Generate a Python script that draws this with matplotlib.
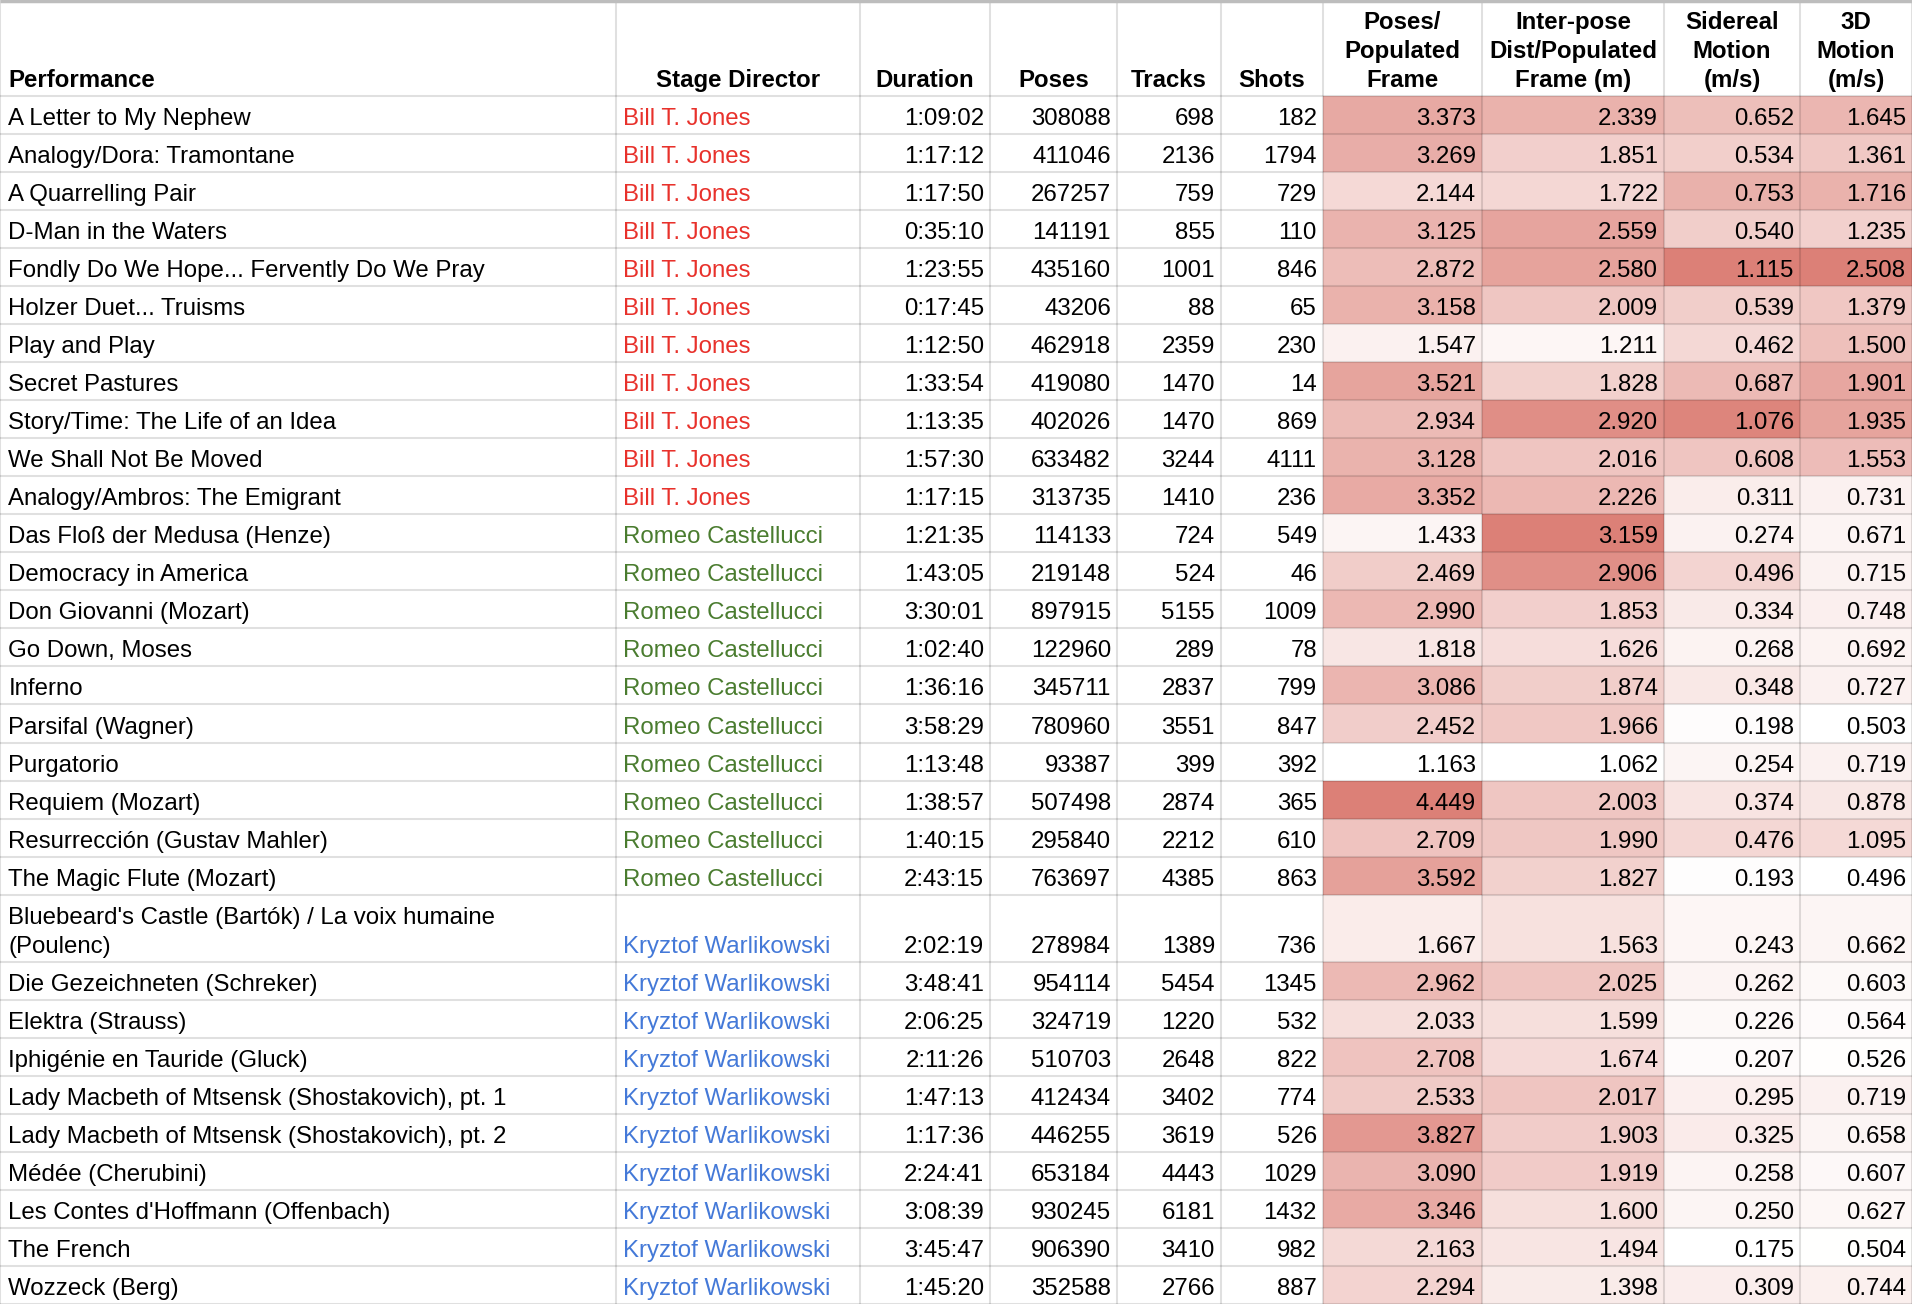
import matplotlib
matplotlib.use("Agg")
import matplotlib.pyplot as plt
from matplotlib.patches import Rectangle
from matplotlib.colors import LinearSegmentedColormap, Normalize

plt.rcParams['font.family'] = ['Liberation Sans', 'DejaVu Sans']

headers = ["Performance", "Stage Director", "Duration", "Poses", "Tracks", "Shots",
           "Poses/\nPopulated\nFrame", "Inter-pose\nDist/Populated\nFrame (m)",
           "Sidereal\nMotion\n(m/s)", "3D\nMotion\n(m/s)"]

performances = [
    "A Letter to My Nephew", "Analogy/Dora: Tramontane", "A Quarrelling Pair",
    "D-Man in the Waters", "Fondly Do We Hope... Fervently Do We Pray",
    "Holzer Duet... Truisms", "Play and Play", "Secret Pastures",
    "Story/Time: The Life of an Idea", "We Shall Not Be Moved",
    "Analogy/Ambros: The Emigrant", "Das Floß der Medusa (Henze)",
    "Democracy in America", "Don Giovanni (Mozart)", "Go Down, Moses", "Inferno",
    "Parsifal (Wagner)", "Purgatorio", "Requiem (Mozart)",
    "Resurrección (Gustav Mahler)", "The Magic Flute (Mozart)",
    "Bluebeard's Castle (Bartók) / La voix humaine\n(Poulenc)",
    "Die Gezeichneten (Schreker)", "Elektra (Strauss)",
    "Iphigénie en Tauride (Gluck)", "Lady Macbeth of Mtsensk (Shostakovich), pt. 1",
    "Lady Macbeth of Mtsensk (Shostakovich), pt. 2", "Médée (Cherubini)",
    "Les Contes d'Hoffmann (Offenbach)", "The French", "Wozzeck (Berg)"]

directors = (["Bill T. Jones"] * 11 + ["Romeo Castellucci"] * 10
             + ["Kryztof Warlikowski"] * 10)

director_colors = {"Bill T. Jones": "#E8312B",
                   "Romeo Castellucci": "#4A7C2F",
                   "Kryztof Warlikowski": "#4479D8"}

durations = ["1:09:02", "1:17:12", "1:17:50", "0:35:10", "1:23:55", "0:17:45",
             "1:12:50", "1:33:54", "1:13:35", "1:57:30", "1:17:15", "1:21:35",
             "1:43:05", "3:30:01", "1:02:40", "1:36:16", "3:58:29", "1:13:48",
             "1:38:57", "1:40:15", "2:43:15", "2:02:19", "3:48:41", "2:06:25",
             "2:11:26", "1:47:13", "1:17:36", "2:24:41", "3:08:39", "3:45:47",
             "1:45:20"]

poses = [308088, 411046, 267257, 141191, 435160, 43206, 462918, 419080, 402026,
         633482, 313735, 114133, 219148, 897915, 122960, 345711, 780960, 93387,
         507498, 295840, 763697, 278984, 954114, 324719, 510703, 412434, 446255,
         653184, 930245, 906390, 352588]

tracks = [698, 2136, 759, 855, 1001, 88, 2359, 1470, 1470, 3244, 1410, 724, 524,
          5155, 289, 2837, 3551, 399, 2874, 2212, 4385, 1389, 5454, 1220, 2648,
          3402, 3619, 4443, 6181, 3410, 2766]

shots = [182, 1794, 729, 110, 846, 65, 230, 14, 869, 4111, 236, 549, 46, 1009,
         78, 799, 847, 392, 365, 610, 863, 736, 1345, 532, 822, 774, 526, 1029,
         1432, 982, 887]

poses_per_frame = [3.373, 3.269, 2.144, 3.125, 2.872, 3.158, 1.547, 3.521, 2.934,
                   3.128, 3.352, 1.433, 2.469, 2.990, 1.818, 3.086, 2.452, 1.163,
                   4.449, 2.709, 3.592, 1.667, 2.962, 2.033, 2.708, 2.533, 3.827,
                   3.090, 3.346, 2.163, 2.294]

interpose_dist = [2.339, 1.851, 1.722, 2.559, 2.580, 2.009, 1.211, 1.828, 2.920,
                  2.016, 2.226, 3.159, 2.906, 1.853, 1.626, 1.874, 1.966, 1.062,
                  2.003, 1.990, 1.827, 1.563, 2.025, 1.599, 1.674, 2.017, 1.903,
                  1.919, 1.600, 1.494, 1.398]

sidereal_motion = [0.652, 0.534, 0.753, 0.540, 1.115, 0.539, 0.462, 0.687, 1.076,
                   0.608, 0.311, 0.274, 0.496, 0.334, 0.268, 0.348, 0.198, 0.254,
                   0.374, 0.476, 0.193, 0.243, 0.262, 0.226, 0.207, 0.295, 0.325,
                   0.258, 0.250, 0.175, 0.309]

motion_3d = [1.645, 1.361, 1.716, 1.235, 2.508, 1.379, 1.500, 1.901, 1.935, 1.553,
             0.731, 0.671, 0.715, 0.748, 0.692, 0.727, 0.503, 0.719, 0.878, 1.095,
             0.496, 0.662, 0.603, 0.564, 0.526, 0.719, 0.658, 0.607, 0.627, 0.504,
             0.744]

# ---- layout (pixels) ----
W, H = 1912, 1304
col_edges = [0, 616, 860, 990, 1117, 1221, 1323, 1482, 1664, 1800, 1912]
header_bottom = 96
row_h = 38.03
tall_h = 67.0
FS = 17.3
LINE = 29
PAD_L = 8.5
PAD_R = 6
BASE_OFF = 9

fig = plt.figure(figsize=(W / 100, H / 100), dpi=100)
ax = fig.add_axes([0, 0, 1, 1])
ax.set_xlim(0, W)
ax.set_ylim(H, 0)
ax.axis("off")

# row edges
row_edges = [header_bottom]
for i, p in enumerate(performances):
    h = tall_h if "\n" in p else row_h
    row_edges.append(row_edges[-1] + h)

cmap = LinearSegmentedColormap.from_list("sheet", ["#FFFFFF", "#DC8077"])
heat_cols = [(6, poses_per_frame), (7, interpose_dist), (8, sidereal_motion),
             (9, motion_3d)]

# heatmap cells
for ci, vals in heat_cols:
    norm = Normalize(min(vals), max(vals))
    x0, x1 = col_edges[ci], col_edges[ci + 1]
    for ri, v in enumerate(vals):
        y0, y1 = row_edges[ri], row_edges[ri + 1]
        ax.add_patch(Rectangle((x0, y0), x1 - x0, y1 - y0,
                               facecolor=cmap(norm(v)), edgecolor="none", zorder=1))

# gridlines
grid_kw = dict(color="black", alpha=0.12, lw=1.5, zorder=2, solid_capstyle="butt")
for y in row_edges:
    ax.plot([0, W], [y, y], **grid_kw)
for x in col_edges:
    ax.plot([x, x], [0, H], **grid_kw)
ax.plot([0, W], [1.2, 1.2], color="#BDBDBD", lw=2.5, zorder=3, solid_capstyle="butt")

# header text
for ci, lab in enumerate(headers):
    lines = lab.split("\n")
    for li, line in enumerate(lines):
        yb = 87 - (len(lines) - 1 - li) * LINE
        if ci == 0:
            ax.text(col_edges[0] + PAD_L, yb, line, ha="left", va="baseline",
                    fontsize=FS, fontweight="bold", zorder=4)
        else:
            xc = (col_edges[ci] + col_edges[ci + 1]) / 2
            ax.text(xc, yb, line, ha="center", va="baseline",
                    fontsize=FS, fontweight="bold", zorder=4)

# body text
for ri in range(len(performances)):
    yb = row_edges[ri + 1] - BASE_OFF
    lines = performances[ri].split("\n")
    for li, line in enumerate(lines):
        ax.text(col_edges[0] + PAD_L, yb - (len(lines) - 1 - li) * LINE, line,
                ha="left", va="baseline", fontsize=FS, zorder=4)
    d = directors[ri]
    ax.text(col_edges[1] + 7, yb, d, ha="left", va="baseline", fontsize=FS,
            color=director_colors[d], zorder=4)
    right_vals = [durations[ri], str(poses[ri]), str(tracks[ri]), str(shots[ri]),
                  f"{poses_per_frame[ri]:.3f}", f"{interpose_dist[ri]:.3f}",
                  f"{sidereal_motion[ri]:.3f}", f"{motion_3d[ri]:.3f}"]
    for k, s in enumerate(right_vals):
        ci = k + 2
        ax.text(col_edges[ci + 1] - PAD_R, yb, s, ha="right", va="baseline",
                fontsize=FS, zorder=4)

fig.savefig("out.png", dpi=100, facecolor="white")
